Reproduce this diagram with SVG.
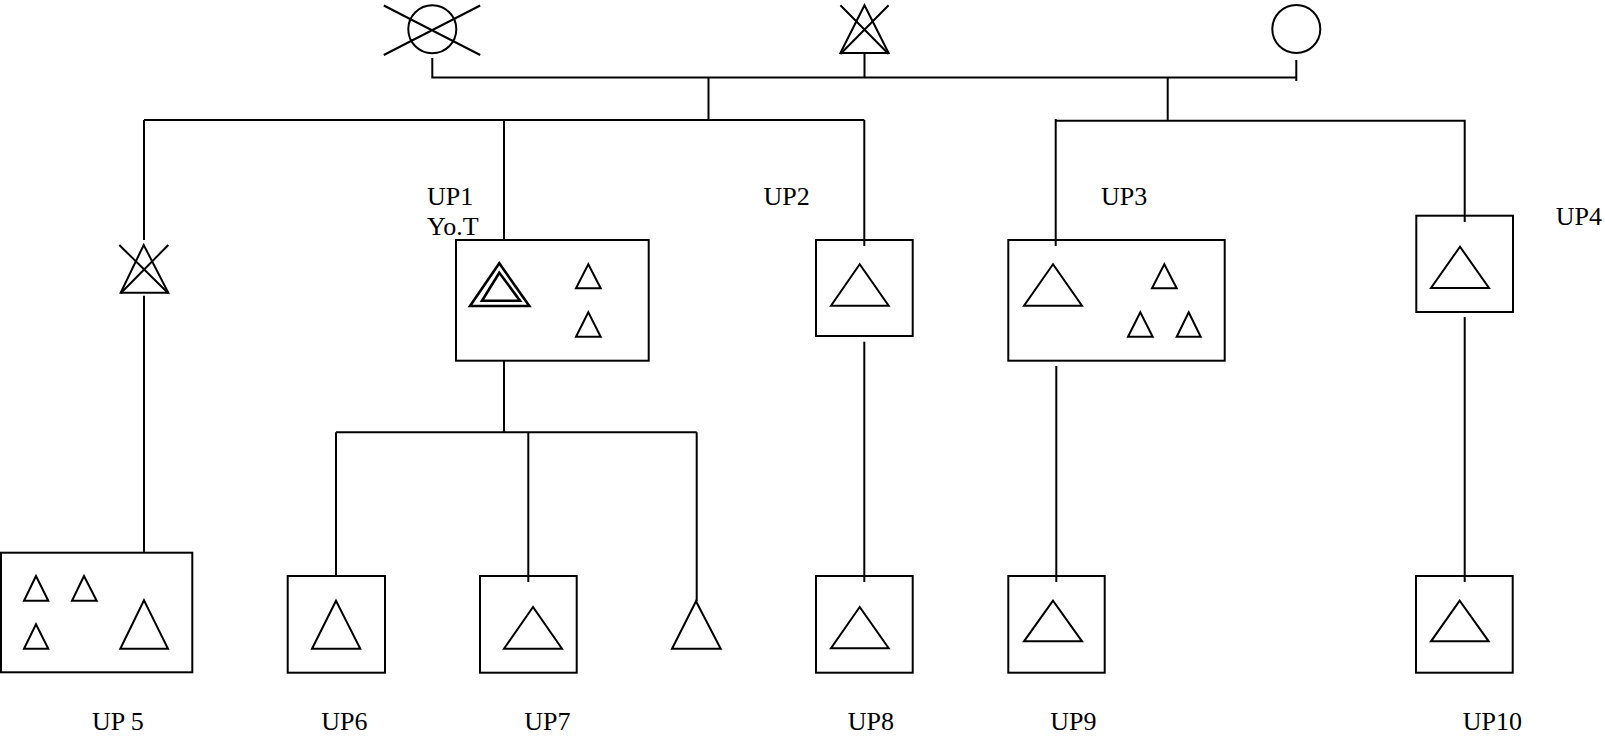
<svg xmlns="http://www.w3.org/2000/svg" width="1605" height="736" viewBox="0 0 1605 736">
<style>
.s{fill:none;stroke:#000;stroke-width:2}
.t{fill:none;stroke:#000;stroke-width:2;stroke-linejoin:miter}
.d{fill:none;stroke:#000;stroke-width:2.6;stroke-linejoin:miter}
.lb{font-family:'Liberation Serif','Times New Roman','DejaVu Serif',serif;font-size:26px;fill:#000}
</style>
<rect x="0" y="0" width="1605" height="736" fill="#fff"/>
<g id="connectors" class="s">
<path d="M432.3 58 V77.5 H1296.3"/>
<path d="M1296.3 60 V81"/>
<path d="M864.5 53 V77.5"/>
<path d="M708.5 78 V120"/>
<path d="M144 120 H864.3"/>
<path d="M144 120 V240"/>
<path d="M504 120 V240"/>
<path d="M864.3 120 V246"/>
<path d="M1167.7 78 V120.7"/>
<path d="M1055.7 119 V246"/>
<path d="M1055.7 120.7 H1464.7 V222"/>
<path d="M144 295.7 V552.7"/>
<path d="M504 360.7 V432.3"/>
<path d="M336 432.3 H696.7"/>
<path d="M336 432.3 V576"/>
<path d="M528.3 432.3 V582"/>
<path d="M696.7 432.3 V601.3"/>
<path d="M864.3 341.7 V582"/>
<path d="M1056.3 366 V582"/>
<path d="M1464.7 317 V582"/>
</g>
<g id="top-circle-crossed">
<circle class="s" cx="432.3" cy="29.3" r="24"/>
<path class="s" d="M383.8 5.5 L480.2 55 M383.8 55 L480.2 5.5"/>
</g>
<g id="top-triangle-crossed">
<polygon class="t" points="864.5,5.3 840.4,53 888.6,53"/>
<path class="s" d="M840.4 5.3 L888.6 54 M888.6 5.3 L840.4 54"/>
</g>
<g id="top-circle">
<circle class="s" cx="1296.3" cy="29" r="24"/>
</g>
<g id="left-triangle-crossed">
<polygon class="t" points="143.7,245 120.7,292.7 168.3,292.7"/>
<path class="s" d="M119.3 245 L168.3 293.3 M168.3 245 L120.7 293.3"/>
</g>
<g id="UP1">
<rect class="s" x="456" y="240" width="192.7" height="120.7"/>
<polygon class="d" points="499.3,263.3 470,306 529.3,306"/>
<polygon class="d" points="499.3,272.7 482,300.7 520,300.7"/>
<polygon class="t" points="588.3,264.3 576,288.3 600.7,288.3"/>
<polygon class="t" points="588.3,312.3 576,336.7 600.7,336.7"/>
<text class="lb" font-family="Liberation Serif, serif" x="427" y="205">UP1</text>
<text class="lb" font-family="Liberation Serif, serif" x="427" y="235">Yo.T</text>
</g>
<g id="UP2">
<rect class="s" x="816" y="240" width="96.7" height="96"/>
<polygon class="t" points="859.7,264.3 831,305.7 888.7,305.7"/>
<text class="lb" font-family="Liberation Serif, serif" x="763.6" y="205">UP2</text>
</g>
<g id="UP3">
<rect class="s" x="1008.3" y="240" width="216.4" height="120.7"/>
<polygon class="t" points="1053,264.3 1024,305.7 1082,305.7"/>
<polygon class="t" points="1164.3,264.3 1152,288.3 1176.7,288.3"/>
<polygon class="t" points="1140.3,312.3 1128,336.7 1152.7,336.7"/>
<polygon class="t" points="1188.7,312.3 1176.7,336.7 1200.7,336.7"/>
<text class="lb" font-family="Liberation Serif, serif" x="1101" y="205">UP3</text>
</g>
<g id="UP4">
<rect class="s" x="1416.3" y="215.7" width="96.7" height="96.3"/>
<polygon class="t" points="1460,246.7 1431,288 1489,288"/>
<text class="lb" font-family="Liberation Serif, serif" x="1555.7" y="225">UP4</text>
</g>
<g id="UP5">
<rect class="s" x="1" y="552.7" width="191.3" height="119.6"/>
<polygon class="t" points="36,576 24,600.7 48.3,600.7"/>
<polygon class="t" points="84,576 72,600.7 96.7,600.7"/>
<polygon class="t" points="36,624.3 24,648.7 48.3,648.7"/>
<polygon class="t" points="144,600.3 120.3,648.7 168,648.7"/>
<text class="lb" font-family="Liberation Serif, serif" x="92" y="730">UP 5</text>
</g>
<g id="UP6">
<rect class="s" x="287.7" y="576" width="97.3" height="96.7"/>
<polygon class="t" points="336,600.7 312,648.7 360.3,648.7"/>
<text class="lb" font-family="Liberation Serif, serif" x="321.3" y="730">UP6</text>
</g>
<g id="UP7">
<rect class="s" x="480" y="576" width="96.7" height="96.7"/>
<polygon class="t" points="533,607 504,648.7 562,648.7"/>
<text class="lb" font-family="Liberation Serif, serif" x="524.3" y="730">UP7</text>
</g>
<g id="triangle-leaf">
<polygon class="t" points="696,601.3 672,648.7 720.7,648.7"/>
</g>
<g id="UP8">
<rect class="s" x="816" y="576" width="96.7" height="96.7"/>
<polygon class="t" points="859.7,607 831,648.3 888.7,648.3"/>
<text class="lb" font-family="Liberation Serif, serif" x="847.7" y="730">UP8</text>
</g>
<g id="UP9">
<rect class="s" x="1008.3" y="576" width="96.4" height="96.7"/>
<polygon class="t" points="1053,600.7 1024,641.3 1082,641.3"/>
<text class="lb" font-family="Liberation Serif, serif" x="1050.3" y="730">UP9</text>
</g>
<g id="UP10">
<rect class="s" x="1416" y="576" width="96.7" height="96.7"/>
<polygon class="t" points="1459.7,600.7 1431,641.3 1488.7,641.3"/>
<text class="lb" font-family="Liberation Serif, serif" x="1462.7" y="730">UP10</text>
</g>
</svg>
